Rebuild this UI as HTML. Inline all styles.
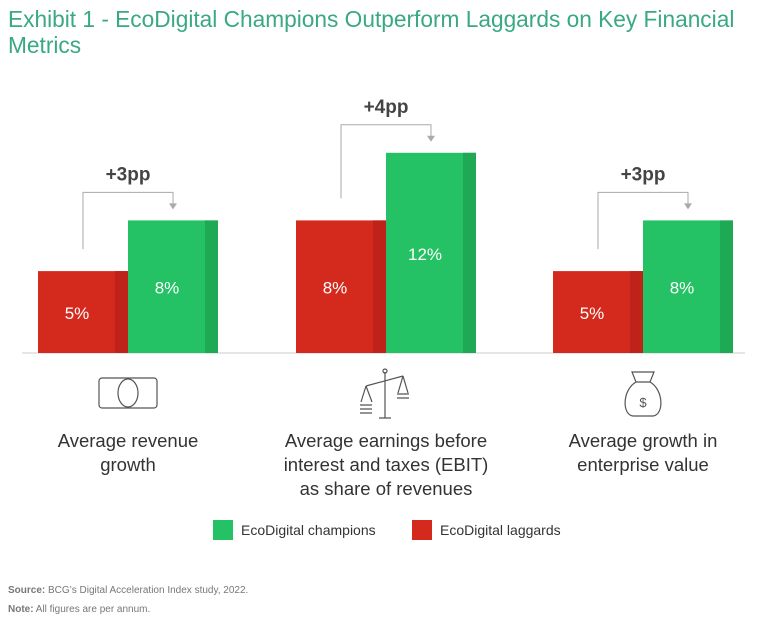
<!DOCTYPE html>
<html><head><meta charset="utf-8"><style>
body{margin:0;width:768px;height:626px;background:#fff;font-family:"Liberation Sans",sans-serif;overflow:hidden;position:relative}
.t{position:absolute;left:8px;top:6px;font-size:22.7px;line-height:26px;color:#3aa981;width:758px}
</style></head><body>
<div class="t">Exhibit 1 - EcoDigital Champions Outperform Laggards on Key Financial Metrics</div>
<svg id="c" width="768" height="626" style="position:absolute;left:0;top:0"></svg>
<script>
const categories=["Average revenue growth","Average earnings before interest and taxes (EBIT) as share of revenues","Average growth in enterprise value"];
const laggards=[5,8,5];
const champions=[8,12,8];
const deltas=["+3pp","+4pp","+3pp"];
const labelLines=[["Average revenue","growth"],["Average earnings before","interest and taxes (EBIT)","as share of revenues"],["Average growth in","enterprise value"]];
const NS="http://www.w3.org/2000/svg";
const svg=document.getElementById('c');
function mk(t,a,p){const e=document.createElementNS(NS,t);for(const k in a)e.setAttribute(k,a[k]);(p||svg).appendChild(e);return e;}
const base=353, groupX=[38,296,553], bw=90;
function y(v){return base-(v*16.9-2.6);}
let l=mk('line',{x1:22,x2:745,y1:base,y2:base,stroke:'#ccc','stroke-width':1});

categories.forEach((c,i)=>{
  const gx=groupX[i];
  [[laggards[i],'#d42a1e','#bf2218',gx,'bar-laggard'],[champions[i],'#25c165','#1fa955',gx+bw,'bar-champion']].forEach(([v,col,dk,x,nm])=>{
    const g=mk('g',{});
    
    mk('rect',{x:x,y:y(v),width:bw,height:base-y(v),fill:col},g);
    mk('rect',{x:x+bw-13,y:y(v),width:13,height:base-y(v),fill:dk},g);
    const t=mk('text',{x:x+bw/2-6,y:(y(v)+base)/2+7,'text-anchor':'middle','font-size':17,fill:'#fff'},g);t.textContent=v+'%';
  });
  const top=y(champions[i])-28, x1=gx+bw/2, x2=gx+bw*1.5;
  const br=mk('path',{d:`M${x1} ${y(laggards[i])-22}V${top}H${x2}V${y(champions[i])-14}`,fill:'none',stroke:'#aaa','stroke-width':1});
  
  mk('path',{d:`M${x2-4} ${y(champions[i])-17}L${x2+4} ${y(champions[i])-17}L${x2} ${y(champions[i])-11}Z`,fill:'#aaa'});
  const dt=mk('text',{x:gx+bw,y:top-12,'text-anchor':'middle','font-size':19,'font-weight':'bold',fill:'#444'});
  dt.textContent=deltas[i];
  const tl=mk('text',{x:gx+bw,y:447,'text-anchor':'middle','font-size':18.5,fill:'#333'});
  
  labelLines[i].forEach((s,j)=>{const ts=mk('tspan',{x:gx+bw,dy:j?24:0},tl);ts.textContent=s;});
});
let ic=mk('g',{fill:'none',stroke:'#555','stroke-width':1.2});

mk('rect',{x:99,y:378,width:58,height:30,rx:3},ic);mk('ellipse',{cx:128,cy:393,rx:10,ry:14},ic);
ic=mk('g',{fill:'none',stroke:'#555','stroke-width':1.2});

mk('path',{d:'M385 372V418M379 418H391M366 386L403 376M366 386L361 402M366 386L372 402M403 376L398 393M403 376L408 393',stroke:'#555'},ic);
mk('circle',{cx:385,cy:371,r:2},ic);
mk('path',{d:'M360 405H372M360 409H372M360 413H372M397 394H409M397 398H409',stroke:'#555'},ic);
ic=mk('g',{fill:'none',stroke:'#555','stroke-width':1.2});

mk('path',{d:'M636 382C622 390 622 415 633 416H653C664 415 664 390 650 382M636 382L632 372H654L650 382Z'},ic);
const dl=mk('text',{x:643,y:407,'text-anchor':'middle','font-size':13,fill:'#555'});dl.textContent='$';
[['#25c165',213,'EcoDigital champions','legend-champions'],['#d42a1e',412,'EcoDigital laggards','legend-laggards']].forEach(([c,x,t,n])=>{
  const g=mk('g',{});
  mk('rect',{x:x,y:520,width:20,height:20,fill:c},g);
  const tt=mk('text',{x:x+28,y:535,'font-size':14,fill:'#333'},g);tt.textContent=t;
});
const s=mk('text',{x:8,y:593,'font-size':10,fill:'#777'});
s.innerHTML='<tspan font-weight="bold">Source:</tspan> BCG\u2019s Digital Acceleration Index study, 2022.';
const n=mk('text',{x:8,y:612,'font-size':10,fill:'#777'});
n.innerHTML='<tspan font-weight="bold">Note:</tspan> All figures are per annum.';
</script>
</body></html>
